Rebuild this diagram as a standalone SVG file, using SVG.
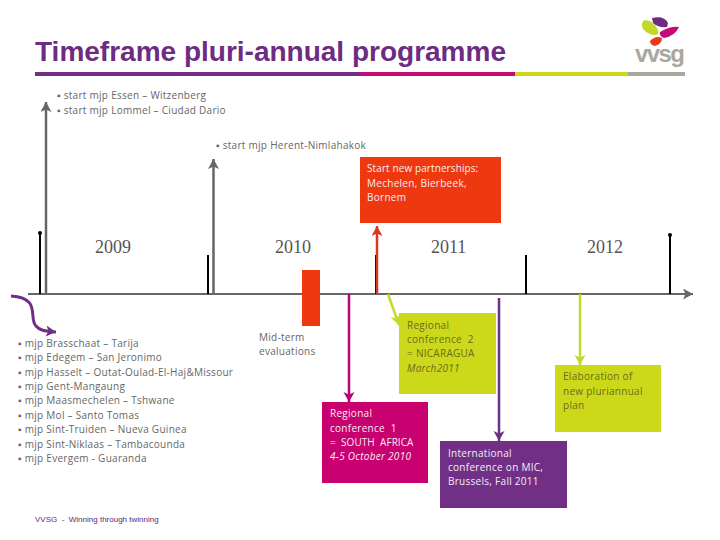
<svg xmlns="http://www.w3.org/2000/svg" width="720" height="540" viewBox="0 0 720 540">
<style>
text{font-family:"Open Sans","Liberation Sans",sans-serif;font-size:10px;letter-spacing:.28px;fill:#666}
.w{fill:#f4eef4}.d{fill:#6b6b20}
.y{font-family:"Liberation Serif",serif;font-size:18px;letter-spacing:0;fill:#555}
.i{font-style:italic}
.t{stroke:#000;stroke-width:2;fill:none}
.c{fill:none;stroke-width:2.500}
</style>
<defs>
<marker id="ag" markerUnits="userSpaceOnUse" markerWidth="12" markerHeight="12" refX="10" refY="5.500" orient="auto"><path d="M0 0L10 5.500L0 11L2.500 5.500Z" fill="#666"/></marker>
<marker id="ar" markerUnits="userSpaceOnUse" markerWidth="12" markerHeight="12" refX="10" refY="5.500" orient="auto"><path d="M0 0L10 5.500L0 11L2.500 5.500Z" fill="#d9381e"/></marker>
<marker id="am" markerUnits="userSpaceOnUse" markerWidth="12" markerHeight="12" refX="10" refY="5.500" orient="auto"><path d="M0 0L10 5.500L0 11L2.500 5.500Z" fill="#b0087a"/></marker>
<marker id="al" markerUnits="userSpaceOnUse" markerWidth="12" markerHeight="12" refX="10" refY="5.500" orient="auto"><path d="M0 0L10 5.500L0 11L2.500 5.500Z" fill="#c4d82e"/></marker>
<marker id="ap" markerUnits="userSpaceOnUse" markerWidth="12" markerHeight="12" refX="10" refY="5.500" orient="auto"><path d="M0 0L10 5.500L0 11L2.500 5.500Z" fill="#6f2f85"/></marker>
</defs>
<g id="header">
<text x="35" y="61" style="font-family:'Liberation Sans',sans-serif;font-size:27.500px;font-weight:bold;letter-spacing:0;fill:#6d2c82" textLength="471" lengthAdjust="spacingAndGlyphs">Timeframe pluri-annual programme</text>
<rect x="35" y="72" width="325" height="4" fill="#752e86"/>
<rect x="360" y="72" width="155" height="4" fill="#c20a78"/>
<rect x="515" y="72" width="113" height="4" fill="#cbd91a"/>
<rect x="628" y="72" width="57" height="4" fill="#a8a89e"/>
</g>
<g id="logo">
<path d="M652 18Q664 15 668 23L667 27Q658 28 653 23Z" fill="#6d2c82"/>
<path d="M643 21Q650 18 657 28Q660 34 656 35Q648 35 643 29Q641 25 643 21Z" fill="#c4d82a"/>
<path d="M660 32Q670 26 679 27Q675 36 664 38Q659 36 660 32Z" fill="#c20a78"/>
<path d="M650 41Q656 35 662 38Q662 44 655 46Q650 45 650 41Z" fill="#e8391a"/>
<text x="635" y="62" style="font-family:'Liberation Sans',sans-serif;font-size:24px;font-weight:bold;letter-spacing:0;fill:#a8a89e" textLength="50">vvsg</text>
</g>
<g id="connectors">
<line x1="28" y1="294" x2="693" y2="294" stroke="#666" stroke-width="2" marker-end="url(#ag)"/>
<path class="t" d="M40 294V233"/><circle cx="40" cy="233" r="2" fill="#000"/>
<path class="t" d="M208 294V255"/><path class="t" d="M376 294V255"/><path class="t" d="M526 294V255"/>
<path class="t" d="M670 294V235"/><circle cx="670" cy="235" r="2" fill="#000"/>
<line class="c" x1="46" y1="294" x2="46" y2="102" stroke="#666" marker-end="url(#ag)"/>
<line class="c" x1="213.500" y1="294" x2="213.500" y2="159" stroke="#666" marker-end="url(#ag)"/>
<line class="c" x1="377" y1="294" x2="377" y2="226" stroke="#d9381e" marker-end="url(#ar)"/>
<line class="c" x1="349" y1="294" x2="349" y2="402" stroke="#b0087a" marker-end="url(#am)"/>
<line class="c" x1="388" y1="294" x2="399" y2="325" stroke="#c4d82e" marker-end="url(#al)"/>
<line class="c" x1="499" y1="298" x2="499" y2="441" stroke="#6f2f85" marker-end="url(#ap)"/>
<line class="c" x1="580" y1="294" x2="580" y2="365" stroke="#c4d82e" marker-end="url(#al)"/>
<path d="M11 296C42 298 28 318 36 326C40 331 46 331 56 332" fill="none" stroke="#6f2f85" stroke-width="3" marker-end="url(#ap)"/>
</g>
<g id="notes-top">
<text x="57" y="99">▪ start mjp Essen – Witzenberg</text>
<text x="57" y="114">▪ start mjp Lommel – Ciudad Dario</text>
<text x="216" y="149">▪ start mjp Herent-Nimlahakok</text>
</g>
<g id="years">
<text class="y" x="95" y="253">2009</text><text class="y" x="275" y="253">2010</text><text class="y" x="431" y="253">2011</text><text class="y" x="587" y="253">2012</text>
</g>
<g id="node-partnerships">
<rect x="360" y="157" width="141" height="66" fill="#ee3810"/>
<text class="w" x="367" y="172" style="letter-spacing:.1px">Start new partnerships:</text><text class="w" x="367" y="187">Mechelen, Bierbeek,</text><text class="w" x="367" y="201">Bornem</text>
</g>
<g id="node-midterm">
<rect x="302" y="270" width="18" height="56" fill="#ee3810"/>
<text x="259" y="341">Mid-term</text><text x="259" y="355">evaluations</text>
</g>
<g id="node-conf2">
<rect x="399" y="313" width="97" height="81" fill="#cbd91a"/>
<text class="d" x="407" y="329">Regional</text><text class="d" x="407" y="343" xml:space="preserve">conference  2</text><text class="d" x="407" y="357">= NICARAGUA</text><text class="d i" x="407" y="372">March2011</text>
</g>
<g id="node-conf1">
<rect x="322" y="402" width="106" height="81" fill="#c9006f"/>
<text class="w" x="330" y="417">Regional</text><text class="w" x="330" y="432" xml:space="preserve">conference  1</text><text class="w" x="330" y="446" xml:space="preserve" style="letter-spacing:.05px">=  SOUTH  AFRICA</text><text class="w i" x="330" y="460">4-5 October 2010</text>
</g>
<g id="node-mic">
<rect x="440" y="441" width="127" height="67" fill="#722f86"/>
<text class="w" x="448" y="457">International</text><text class="w" x="448" y="471">conference on MIC,</text><text class="w" x="448" y="485">Brussels, Fall 2011</text>
</g>
<g id="node-plan">
<rect x="555" y="365" width="106" height="67" fill="#cbd91a"/>
<text class="d" x="563" y="380">Elaboration of</text><text class="d" x="563" y="395">new pluriannual</text><text class="d" x="563" y="409">plan</text>
</g>
<g id="list">
<text x="18" y="347">▪ mjp Brasschaat – Tarija</text>
<text x="18" y="361">▪ mjp Edegem – San Jeronimo</text>
<text x="18" y="376">▪ mjp Hasselt – Outat-Oulad-El-Haj&amp;Missour</text>
<text x="18" y="390">▪ mjp Gent-Mangaung</text>
<text x="18" y="404">▪ mjp Maasmechelen – Tshwane</text>
<text x="18" y="419">▪ mjp Mol – Santo Tomas</text>
<text x="18" y="433">▪ mjp Sint-Truiden – Nueva Guinea</text>
<text x="18" y="448">▪ mjp Sint-Niklaas – Tambacounda</text>
<text x="18" y="462">▪ mjp Evergem - Guaranda</text>
</g>
<g id="footer">
<text x="35" y="522" xml:space="preserve" style="font-family:'Liberation Sans',sans-serif;font-size:8px;letter-spacing:0;fill:#5a2a72">VVSG  -  Winning through twinning</text>
</g>
</svg>
